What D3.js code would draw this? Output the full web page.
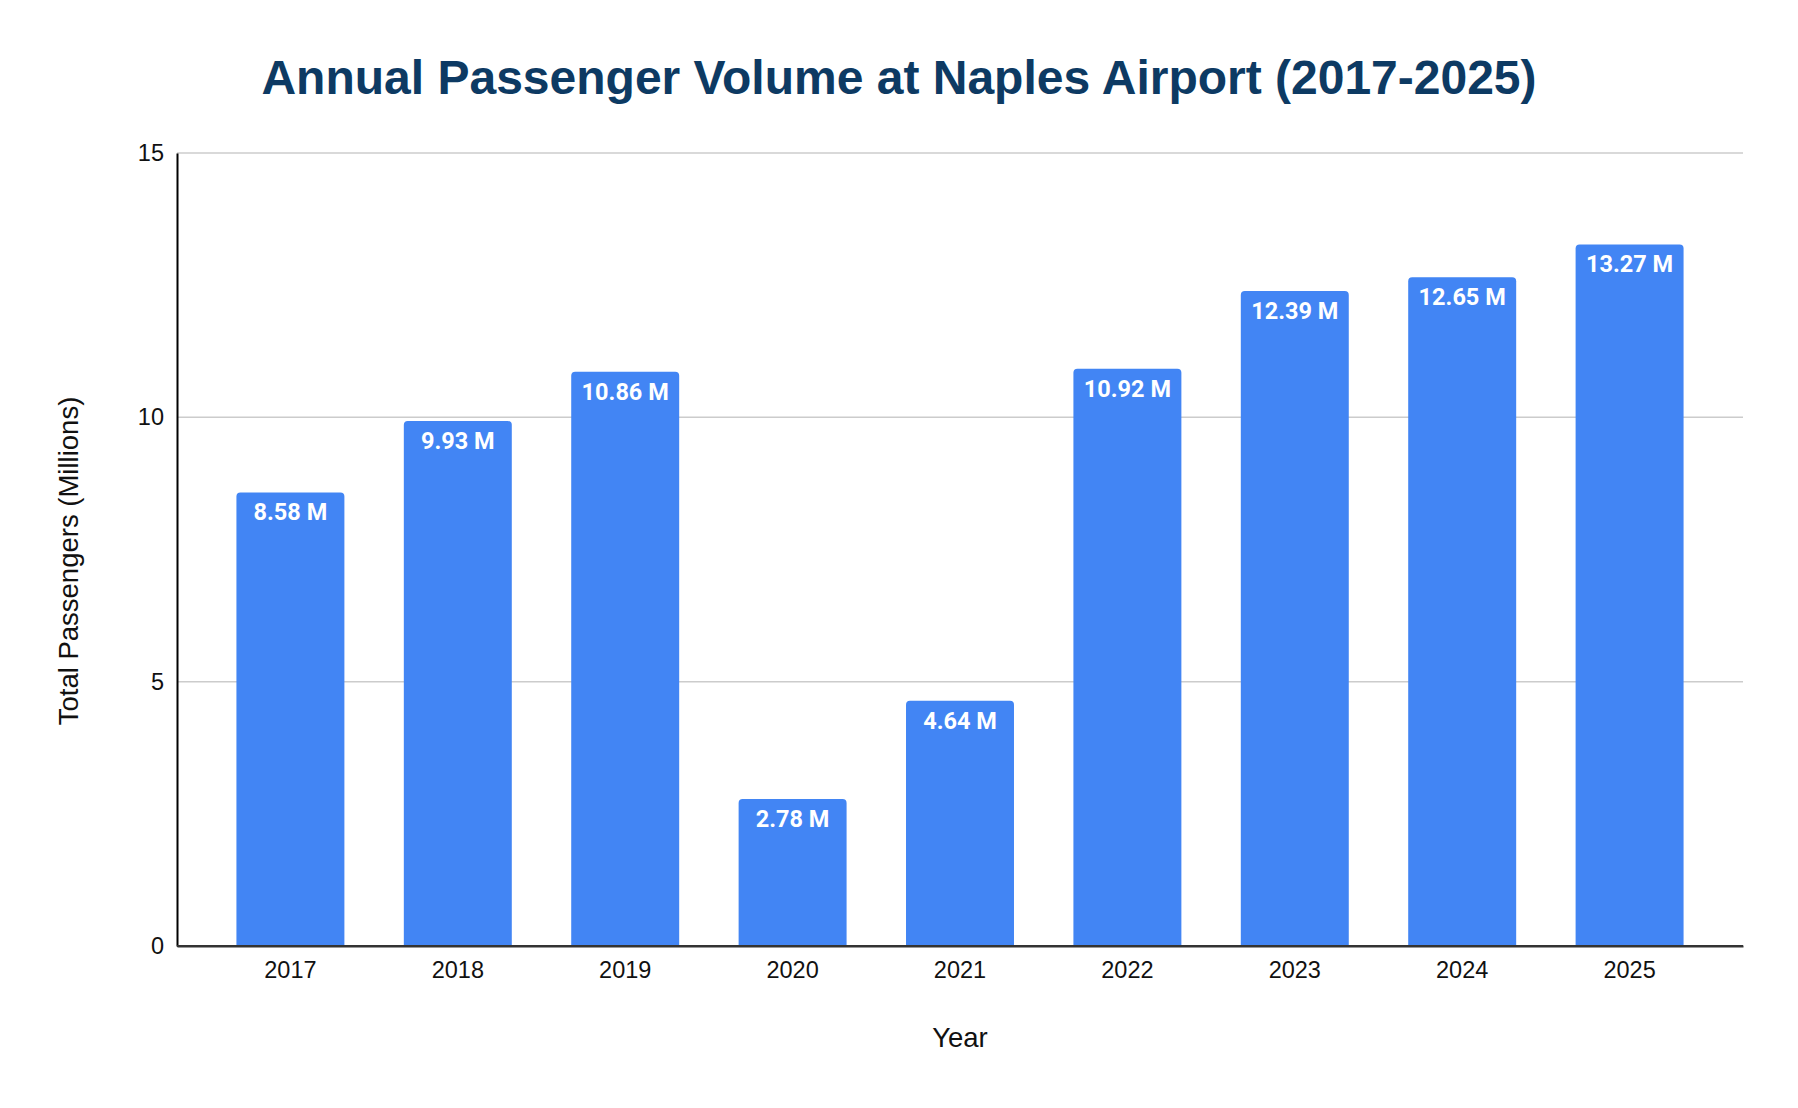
<!DOCTYPE html>
<html>
<head>
<meta charset="utf-8">
<script src="https://cdn.jsdelivr.net/npm/d3@7"></script>
<style>
    body { margin: 0; background: #ffffff; }
    svg { display: block; }
</style>
</head>
<body>
<svg id="chart"></svg>
<script>
// data
const years = ["2017", "2018", "2019", "2020", "2021", "2022", "2023", "2024", "2025"]
const passengers = [8.58, 9.93, 10.86, 2.78, 4.64, 10.92, 12.39, 12.65, 13.27]
const yTicks = [0, 5, 10, 15]

const w = 1798
const h = 1108
const margin = { top: 153, right: 55, bottom: 162, left: 177 }

const svg = d3.select("#chart")
    .attr("width", w)
    .attr("height", h)

// scales
const xScale = d3.scaleBand()
    .domain(years)
    .range([margin.left, w - margin.right])
    .paddingInner(0.355)
    .paddingOuter(0.355)

const yScale = d3.scaleLinear()
    .domain([0, 15])
    .range([h - margin.bottom, margin.top])

// gridlines
svg.append("g")
    .selectAll("line")
    .data(yTicks.filter(d => d > 0))
    .enter()
    .append("line")
    .attr("x1", margin.left)
    .attr("x2", w - margin.right)
    .attr("y1", d => yScale(d))
    .attr("y2", d => yScale(d))
    .attr("stroke", "#cccccc")
    .attr("stroke-width", 1.5)

// bars with rounded top corners
const r = 4
function barPath(d, i) {
    const x0 = xScale(years[i])
    const x1 = x0 + xScale.bandwidth()
    const y0 = yScale(0)
    const y1 = yScale(d)
    return `M${x0},${y0} L${x0},${y1 + r} Q${x0},${y1} ${x0 + r},${y1} L${x1 - r},${y1} Q${x1},${y1} ${x1},${y1 + r} L${x1},${y0} Z`
}

svg.append("g")
    .selectAll("path")
    .data(passengers)
    .enter()
    .append("path")
    .attr("class", "bar")
    .attr("d", barPath)
    .attr("fill", "#4285f4")

// value labels inside bars
svg.append("g")
    .selectAll("text")
    .data(passengers)
    .enter()
    .append("text")
    .attr("x", (d, i) => xScale(years[i]) + xScale.bandwidth() / 2)
    .attr("y", d => yScale(d) + 28)
    .attr("text-anchor", "middle")
    .attr("font-family", "Roboto, sans-serif")
    .attr("font-weight", 700)
    .attr("font-size", 23.5)
    .attr("fill", "#ffffff")
    .text(d => `${d.toFixed(2)} M`)

// axes
const axisBottom = d3.axisBottom(xScale)
    .tickSize(0)
    .tickPadding(15)

const axisLeft = d3.axisLeft(yScale)
    .tickValues(yTicks)
    .tickSize(0)
    .tickPadding(13)

const gx = svg.append("g")
    .attr("transform", `translate(0, ${yScale(0)})`)
    .call(axisBottom)

gx.select(".domain")
    .attr("stroke", "#333333")
    .attr("stroke-width", 2)

gx.selectAll("text")
    .attr("font-family", "'Liberation Sans', Arial, sans-serif")
    .attr("font-size", 23.5)
    .attr("fill", "#111111")

const gy = svg.append("g")
    .attr("transform", `translate(${margin.left}, 0)`)
    .call(axisLeft)

gy.select(".domain")
    .attr("stroke", "#000000")
    .attr("stroke-width", 2)

gy.selectAll("text")
    .attr("font-family", "'Liberation Sans', Arial, sans-serif")
    .attr("font-size", 23.5)
    .attr("fill", "#111111")

// redraw bottom line above bars
svg.append("line")
    .attr("x1", margin.left)
    .attr("x2", w - margin.right)
    .attr("y1", yScale(0))
    .attr("y2", yScale(0))
    .attr("stroke", "#333333")
    .attr("stroke-width", 2)

// title
svg.append("text")
    .attr("x", w / 2)
    .attr("y", 94)
    .attr("text-anchor", "middle")
    .attr("font-family", "'Liberation Sans', Arial, sans-serif")
    .attr("font-weight", 700)
    .attr("font-size", 48)
    .attr("fill", "#0d3a63")
    .text("Annual Passenger Volume at Naples Airport (2017-2025)")

// axis titles
svg.append("text")
    .attr("x", (margin.left + w - margin.right) / 2)
    .attr("y", 1047)
    .attr("text-anchor", "middle")
    .attr("font-family", "'Liberation Sans', Arial, sans-serif")
    .attr("font-size", 27.5)
    .attr("fill", "#111111")
    .text("Year")

svg.append("text")
    .attr("transform", `translate(78, 561) rotate(-90)`)
    .attr("text-anchor", "middle")
    .attr("font-family", "'Liberation Sans', Arial, sans-serif")
    .attr("font-size", 27.5)
    .attr("fill", "#111111")
    .text("Total Passengers (Millions)")
</script>
</body>
</html>
